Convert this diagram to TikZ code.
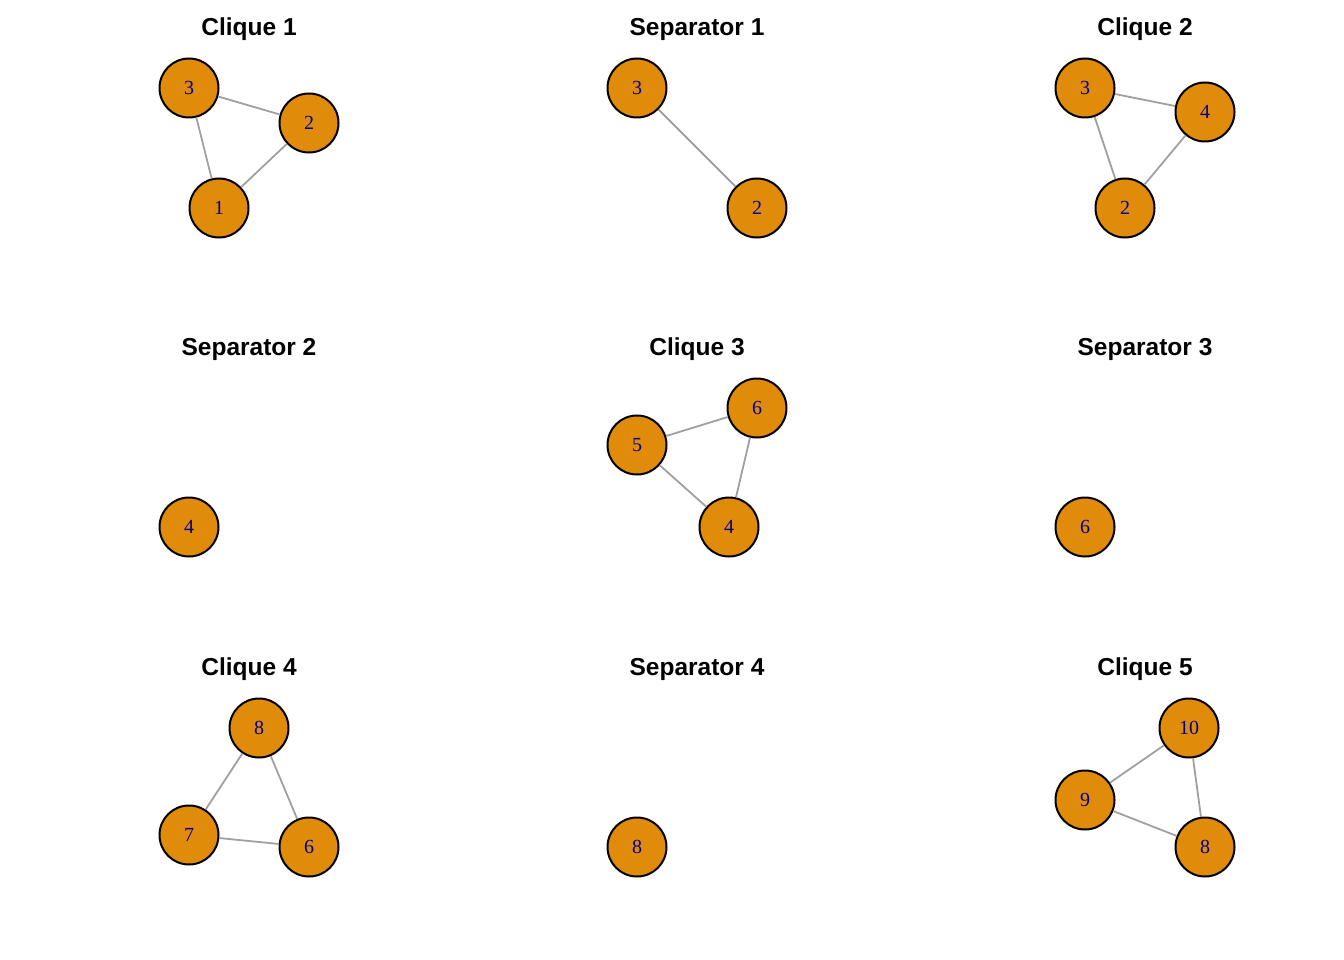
\documentclass[tikz,border=0pt]{standalone}
\usepackage{fontspec}
\setmainfont{Liberation Serif}
\newfontfamily\titlefont{Liberation Sans}
\usetikzlibrary{positioning}
\definecolor{vorange}{RGB}{224,140,10}
\definecolor{vlabel}{RGB}{0,0,139}
\definecolor{egray}{RGB}{160,160,160}

\begin{document}
\begin{tikzpicture}[x=1pt,y=-1pt,
    vert/.style={circle,draw=black,line width=2pt,fill=vorange,minimum size=59pt,inner sep=0pt,
                 text=vlabel,font=\fontsize{20}{20}\selectfont},
    ttl/.style={font=\titlefont\bfseries\fontsize{24.5}{24.5}\selectfont}]
  \useasboundingbox (0,0) rectangle (1344,960);

  % titles
  \node[ttl] (t1) at (249,29)  {Clique 1};
  \node[ttl] (t2) at (697,29)  {Separator 1};
  \node[ttl] (t3) at (1145,29) {Clique 2};
  \node[ttl] (t4) at (249,349) {Separator 2};
  \node[ttl] (t5) at (697,349) {Clique 3};
  \node[ttl] (t6) at (1145,349) {Separator 3};
  \node[ttl] (t7) at (249,669) {Clique 4};
  \node[ttl] (t8) at (697,669) {Separator 4};
  \node[ttl] (t9) at (1145,669) {Clique 5};

  % clique 1
  \node[vert] (c1n3) at (189,88)  {3};
  \node[vert] (c1n2) at (309,123) {2};
  \node[vert] (c1n1) at (219,208) {1};

  % separator 1
  \node[vert] (s1n3) at (637,88)  {3};
  \node[vert] (s1n2) at (757,208) {2};

  % clique 2
  \node[vert] (c2n3) at (1085,88)  {3};
  \node[vert] (c2n4) at (1205,112) {4};
  \node[vert] (c2n2) at (1125,208) {2};

  % separator 2
  \node[vert] (s2n4) at (189,527) {4};

  % clique 3
  \node[vert] (c3n6) at (757,408) {6};
  \node[vert] (c3n5) at (637,445) {5};
  \node[vert] (c3n4) at (729,527) {4};

  % separator 3
  \node[vert] (s3n6) at (1085,527) {6};

  % clique 4
  \node[vert] (c4n8) at (259,728) {8};
  \node[vert] (c4n7) at (189,835) {7};
  \node[vert] (c4n6) at (309,847) {6};

  % separator 4
  \node[vert] (s4n8) at (637,847) {8};

  % clique 5
  \node[vert] (c5n10) at (1189,728) {10};
  \node[vert] (c5n9)  at (1085,800) {9};
  \node[vert] (c5n8)  at (1205,847) {8};

  \tikzset{edg/.style={-,draw=egray,line width=1.8pt}}
  \path (c1n3) edge[edg] (c1n2)
        (c1n3) edge[edg] (c1n1)
        (c1n2) edge[edg] (c1n1)
        (s1n3) edge[edg] (s1n2)
        (c2n3) edge[edg] (c2n4)
        (c2n3) edge[edg] (c2n2)
        (c2n4) edge[edg] (c2n2)
        (c3n5) edge[edg] (c3n6)
        (c3n5) edge[edg] (c3n4)
        (c3n6) edge[edg] (c3n4)
        (c4n8) edge[edg] (c4n7)
        (c4n8) edge[edg] (c4n6)
        (c4n7) edge[edg] (c4n6)
        (c5n10) edge[edg] (c5n9)
        (c5n10) edge[edg] (c5n8)
        (c5n9) edge[edg] (c5n8);
\end{tikzpicture}
\end{document}
